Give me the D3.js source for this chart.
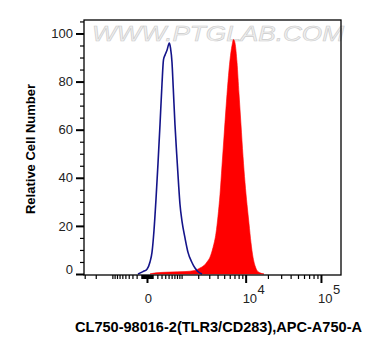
<!DOCTYPE html>
<html><head><meta charset="utf-8">
<script src="https://cdn.jsdelivr.net/npm/d3@7"></script>
<style>body{margin:0;background:#fff}svg{display:block}</style>
</head><body>
<svg id="c" width="372" height="356"></svg>
<script>
// Fluorescence (APC-A750-A) values and relative cell counts
const blueX = [-170,-70,0,52,89,128,170,215,262,312,351,393,451,522,562,613,659,722,788,862,927,1018,1166,1328,1548,1765,1983,2305];
const blueY = [0,1,2,5,9,18,31,46,62,79,89,91,93,96,94,88,77,62,50,38,29,22,15,9,5,2.5,1,0];
const redX = [52,170,545,1166,1765,2140,2481,2766,3078,3420,3793,4060,4345,4646,4966,5307,5668,6052,6461,6783,7120,7593,8095,8629,9196,9797,10434,11113,11831,12595,13405,14266,15661,17722];
const redY = [0,0.5,0.8,1,1.5,2.5,3.5,5,7,11,17,24,33,45,57,69,80,89,95,97.5,96,88,75,62,49,38,29,21,13,7,3.5,1.5,0.5,0];
const yTicks = [0,20,40,60,80,100];
const yMinor = [5,10,15,25,30,35,45,50,55,65,70,75,85,90,95,105];
const xMajor = [0,10000,100000];
const xLabels = [{v:0,base:"0",exp:""},{v:10000,base:"10",exp:"4"},{v:100000,base:"10",exp:"5"}];
const xMinor = [-3000,-2000,-1000,-900,-800,-700,-600,-500,-400,-300,-200,-100,-90,-80,-70,-60,-50,-40,-30,-20,-10,
  10,20,30,40,50,60,70,80,90,100,200,300,400,500,600,700,800,900,1000,2000,3000,4000,5000,6000,7000,8000,9000,
  20000,30000,40000,50000,60000,70000,80000,90000];
const xTitle = "CL750-98016-2(TLR3/CD283),APC-A750-A";
const yTitle = "Relative Cell Number";

const L=84,R=341,T=20,B=275;
const svg = d3.select("#c");
const x = d3.scaleSymlog().constant(550).domain([-3075,182700]).range([L,R]);
const y = d3.scaleLinear().domain([0,105.6]).range([274,T]);

// watermark
svg.append("text").attr("x",92).attr("y",41).attr("textLength",252).attr("lengthAdjust","spacingAndGlyphs")
  .attr("font-family","Liberation Sans, Arial, sans-serif").attr("font-size",22).attr("font-style","italic")
  .attr("fill","#f0f0f0").attr("stroke","#cccccc").attr("stroke-width",0.6).text("WWW.PTGLAB.COM");

const blue = blueX.map((v,i)=>[v,blueY[i]]);
const red = redX.map((v,i)=>[v,redY[i]]);

svg.append("path").datum(red).attr("fill","#ff0000").attr("stroke","#ff0000").attr("stroke-width",0.6)
  .attr("d", d3.area().x(d=>x(d[0])).y0(y(0)).y1(d=>y(d[1])).curve(d3.curveMonotoneX));
svg.append("path").datum(blue).attr("fill","none").attr("stroke","#14148a").attr("stroke-width",1.6)
  .attr("d", d3.line().x(d=>x(d[0])).y(d=>y(d[1])).curve(d3.curveMonotoneX));

// frame
svg.append("rect").attr("x",L).attr("y",T).attr("width",R-L).attr("height",B-T)
  .attr("fill","none").attr("stroke","#000").attr("stroke-width",1.3);

const font = "Liberation Sans, Arial, sans-serif";
// y axis
const gy = svg.append("g").attr("transform",`translate(${L},0)`);
gy.call(d3.axisLeft(y).tickValues(yMinor.filter(v=>v<=105)).tickSize(4).tickFormat(""));
gy.call(g=>g.selectAll(".tick line").attr("stroke-width",1.2));
const gy2 = svg.append("g").attr("transform",`translate(${L},0)`);
gy2.call(d3.axisLeft(y).tickValues(yTicks).tickSize(8).tickPadding(3));
gy2.selectAll(".tick line").attr("stroke-width",2);
gy2.selectAll(".tick text").attr("font-family",font).attr("font-size",13).attr("fill","#222")
  .attr("dy", d=> d===0 ? "-0.05em" : "0.32em");
svg.selectAll(".domain").remove();

// x axis
const gx = svg.append("g").attr("transform",`translate(0,${B})`);
gx.call(d3.axisBottom(x).tickValues(xMinor).tickSize(4).tickFormat(""));
gx.selectAll(".tick line").attr("stroke-width",1.2);
const gx2 = svg.append("g").attr("transform",`translate(0,${B})`);
gx2.call(d3.axisBottom(x).tickValues(xMajor).tickSize(8).tickFormat(""));
gx2.selectAll(".tick line").attr("stroke-width",2);
svg.selectAll(".domain").remove();

xLabels.forEach(l=>{
  const t = svg.append("text").attr("font-family",font).attr("font-size",13).attr("fill","#222").attr("y",303);
  if(l.exp===""){ t.attr("x",x(l.v)+1.5).attr("text-anchor","middle").text(l.base); }
  else {
    t.attr("x",x(l.v)-3);
    t.append("tspan").text(l.base);
    t.append("tspan").attr("dy",-9).attr("dx",0.5).text(l.exp);
  }
});

svg.append("text").attr("x",75).attr("y",332).attr("textLength",287).attr("lengthAdjust","spacingAndGlyphs")
  .attr("font-family",font).attr("font-size",14).attr("font-weight","bold").text(xTitle);
svg.append("text").attr("transform","translate(35,149) rotate(-90)").attr("text-anchor","middle")
  .attr("font-family",font).attr("font-size",13).attr("font-weight","bold").text(yTitle);
</script>
</body></html>
